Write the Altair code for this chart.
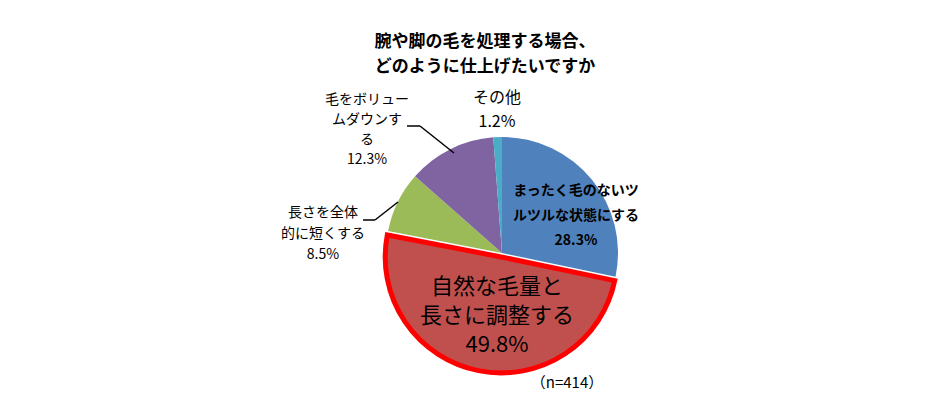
import math
import altair as alt
import pandas as pd

# ---- data ----
categories = [
    "まったく毛のないツルツルな状態にする",
    "自然な毛量と長さに調整する",
    "長さを全体的に短くする",
    "毛をボリュームダウンする",
    "その他",
]
values = [28.3, 49.8, 8.5, 12.3, 1.2]
label_lines = [
    ["まったく毛のないツ", "ルツルな状態にする"],
    ["自然な毛量と", "長さに調整する"],
    ["長さを全体", "的に短くする"],
    ["毛をボリュー", "ムダウンす", "る"],
    ["その他"],
]
title_lines = ["腕や脚の毛を処理する場合、", "どのように仕上げたいですか"]
note_text = "（n=414）"

# ---- styles ----
colors = ["#4F81BD", "#C0504D", "#9BBB59", "#8064A2", "#4BACC6"]
FONT = "Noto Sans CJK JP"
CX, CY, R = 494, 245, 116
highlight = categories[1]

df = pd.DataFrame({"cat": categories, "value": values})
df["end"] = df["value"].cumsum()
df["start"] = df["end"] - df["value"]
df["label"] = ["\n".join(lines + [f"{v:.1f}%"]) for lines, v in zip(label_lines, values)]
total = float(sum(values))

base = alt.Chart(df)
theta_scale = alt.Scale(domain=[0, total], range=[0, 2 * math.pi])
color = alt.Color("cat:N", scale=alt.Scale(domain=categories, range=colors), legend=None)

others = base.transform_filter(alt.datum.cat != highlight).mark_arc(radius=R).encode(
    theta=alt.Theta("start:Q", scale=theta_scale),
    theta2="end:Q",
    color=color,
    x=alt.value(CX),
    y=alt.value(CY),
)

# exploded slice, shifted along its mid-angle
mid = (df.loc[1, "start"] + df.loc[1, "end"]) / 2 / total * 2 * math.pi
off = 4
red = base.transform_filter(alt.datum.cat == highlight).mark_arc(
    radius=R, stroke="#FF0000", strokeWidth=5, strokeJoin="miter"
).encode(
    theta=alt.Theta("start:Q", scale=theta_scale),
    theta2="end:Q",
    color=color,
    x=alt.value(CX + off * math.sin(mid)),
    y=alt.value(CY - off * math.cos(mid)),
)

def label(cat, x, y, size, lh, weight="normal"):
    return base.transform_filter(alt.datum.cat == cat).mark_text(
        font=FONT, fontSize=size, lineHeight=lh, lineBreak="\n",
        align="center", baseline="middle", fontWeight=weight, color="#000000",
    ).encode(x=alt.value(x), y=alt.value(y), text="label:N")

labels = [
    label(categories[0], 568, 183, 14, 25, 600),
    label(categories[1], 489, 279, 22, 29),
    label(categories[2], 315, 205, 14, 21),
    label(categories[3], 359, 92, 14, 20),
    label(categories[4], 489, 90, 16, 24),
]

title = alt.Chart(pd.DataFrame({"t": ["\n".join(title_lines)]})).mark_text(
    font=FONT, fontSize=17, fontWeight="bold", lineHeight=25, lineBreak="\n",
    align="center", baseline="middle", color="#000000",
).encode(x=alt.value(477), y=alt.value(34), text="t:N")

note = alt.Chart(pd.DataFrame({"t": [note_text]})).mark_text(
    font=FONT, fontSize=15, align="center", baseline="middle", color="#000000",
).encode(x=alt.value(559), y=alt.value(375), text="t:N")

one = pd.DataFrame({"k": [1]})
def seg(x1, y1, x2, y2):
    return alt.Chart(one).mark_rule(color="#000000", strokeWidth=1.5).encode(
        x=alt.value(x1), y=alt.value(y1), x2=alt.value(x2), y2=alt.value(y2)
    )

leaders = [
    seg(399, 118, 412, 118), seg(412, 118, 446, 145),
    seg(355, 212, 367, 212), seg(367, 212, 390, 194),
]

chart = alt.layer(others, red, *leaders, *labels, title, note).properties(
    width=924, height=384, padding=0,
    autosize=alt.AutoSizeParams(type="none"),
    background="white",
).configure_view(stroke=None)

chart.save("out.html", embed_options={"renderer": "svg", "actions": False})
